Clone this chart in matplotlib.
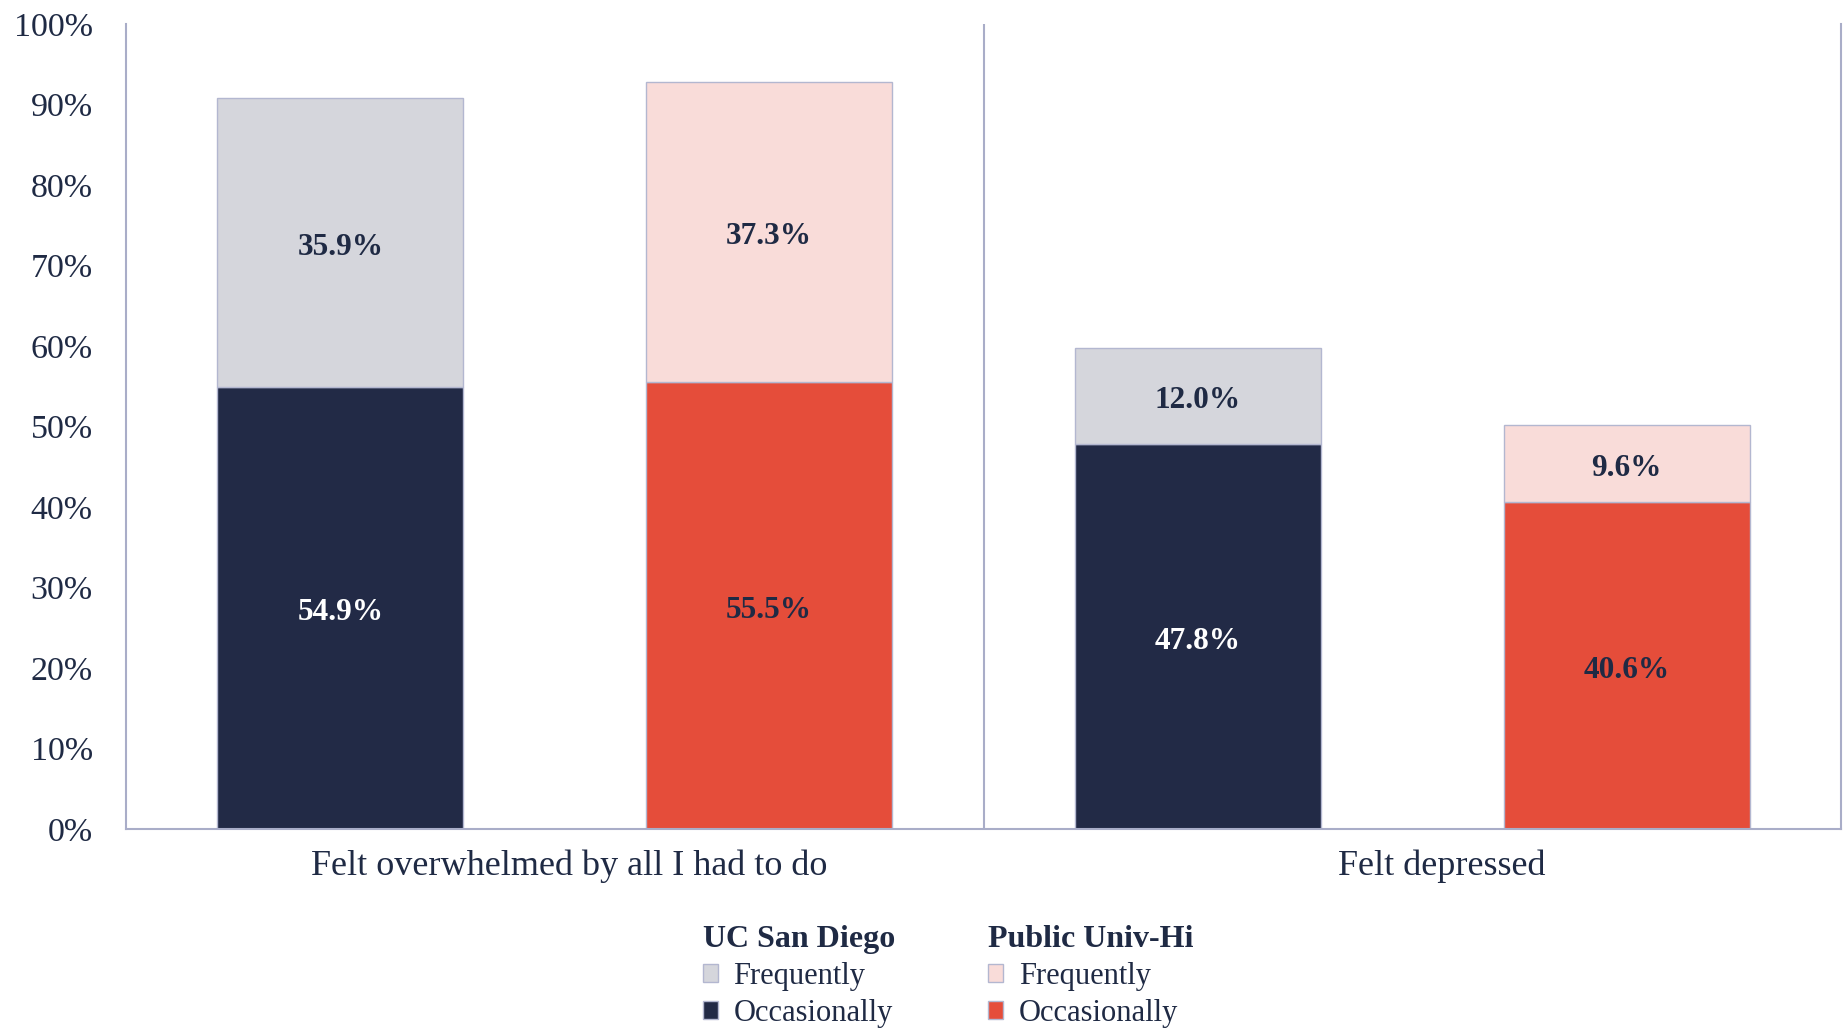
import matplotlib
matplotlib.use("Agg")
import matplotlib.pyplot as plt
from matplotlib.patches import Patch
import matplotlib.transforms as mtransforms
import numpy as np

categories = ["Felt overwhelmed by all I had to do", "Felt depressed"]
groups = ["UC San Diego", "Public Univ-Hi"]
ucsd_occasionally = [54.9, 47.8]
ucsd_frequently = [35.9, 12.0]
pub_occasionally = [55.5, 40.6]
pub_frequently = [37.3, 9.6]
yticks = list(range(0, 101, 10))

NAVY = "#222A46"
GREY = "#D5D6DC"
PINK = "#F9DCD9"
RED = "#E54D3A"
EDGE = "#B3B7D0"
SPINE = "#A9ADC8"
TXT = "#1F2A44"

plt.rcParams["font.family"] = ["Liberation Serif", "DejaVu Serif"]

fig = plt.figure(figsize=(18.47, 10.31), dpi=100)
ax = fig.add_axes([0.0682, 0.1959, 0.9968 - 0.0682, 0.9767 - 0.1959])

x = np.arange(len(categories))
w = 0.287
off = 0.25

specs = [
    (x - off, ucsd_occasionally, ucsd_frequently, NAVY, GREY, "white", TXT),
    (x + off, pub_occasionally, pub_frequently, RED, PINK, TXT, TXT),
]
for xs, occ, freq, c_occ, c_freq, t_occ, t_freq in specs:
    ax.bar(xs, occ, width=w, color=c_occ, edgecolor=EDGE, linewidth=1, zorder=2)
    ax.bar(xs, freq, width=w, bottom=occ, color=c_freq, edgecolor=EDGE, linewidth=1, zorder=2)
    for xi, o, f in zip(xs, occ, freq):
        ax.text(xi, o / 2 - 0.6, f"{o:.1f}%", ha="center", va="center", fontsize=22.5,
                fontweight="bold", color=t_occ, zorder=3)
        ax.text(xi, o + f / 2 - 0.6, f"{f:.1f}%", ha="center", va="center", fontsize=22.5,
                fontweight="bold", color=t_freq, zorder=3)

ax.set_xlim(-0.5, 1.5)
ax.set_ylim(0, 100)
ax.set_yticks(yticks)
ax.set_yticklabels([f"{v}%" for v in yticks])
ax.set_xticks(x)
ax.set_xticklabels(categories)
ax.tick_params(axis="y", length=0, pad=24, labelsize=24.5, labelcolor=TXT)
ax.tick_params(axis="x", length=0, pad=15, labelsize=26, labelcolor=TXT)
for lbl, dx in zip(ax.get_xticklabels(), [14, 29]):
    lbl.set_transform(lbl.get_transform() + mtransforms.ScaledTranslation(dx / 100, 0, fig.dpi_scale_trans))
ax.axvline(0.5, color=SPINE, linewidth=1.5, zorder=1)
ax.spines["top"].set_visible(False)
for s in ["left", "bottom", "right"]:
    ax.spines[s].set_color(SPINE)
    ax.spines[s].set_linewidth(1.5)

h1 = [Patch(facecolor=GREY, edgecolor=EDGE, label="Frequently"),
      Patch(facecolor=NAVY, edgecolor=EDGE, label="Occasionally")]
h2 = [Patch(facecolor=PINK, edgecolor=EDGE, label="Frequently"),
      Patch(facecolor=RED, edgecolor=EDGE, label="Occasionally")]
for handles, title, xa in [(h1, groups[0], 0.3806), (h2, groups[1], 0.535)]:
    leg = fig.legend(handles=handles, title=title, loc="upper left",
                     bbox_to_anchor=(xa, 0.103), frameon=False, fontsize=22,
                     title_fontproperties={"weight": "bold", "size": 23},
                     alignment="left", handlelength=0.5, handleheight=0.5,
                     handletextpad=0.5, labelspacing=0.26, borderpad=0,
                     borderaxespad=0)
    leg.get_title().set_color(TXT)
    for t in leg.get_texts():
        t.set_color(TXT)

fig.savefig("out.png", dpi=100, facecolor="white")
